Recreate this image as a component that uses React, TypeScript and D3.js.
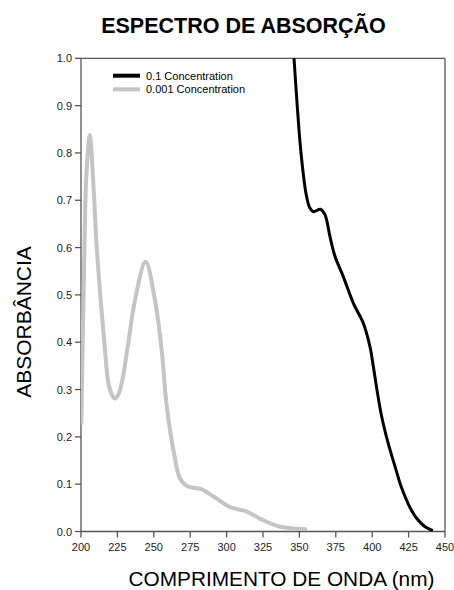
import React from "react";
import * as d3 from "d3";

const title = "ESPECTRO DE ABSORÇÃO";
const xLabel = "COMPRIMENTO DE ONDA (nm)";
const yLabel = "ABSORBÂNCIA";
const xTicks = [200, 225, 250, 275, 300, 325, 350, 375, 400, 425, 450];
const yTicks = [0, 0.1, 0.2, 0.3, 0.4, 0.5, 0.6, 0.7, 0.8, 0.9, 1.0];
const seriesNames = ["0.1 Concentration", "0.001 Concentration"];

const blackWl = [346.3, 348.5, 350.5, 352.5, 354.5, 357, 359.6, 364.4, 367.6, 371, 374.5, 380.2, 387.1, 393.9, 398.5, 400.8, 403.5, 406.5, 411, 415.7, 420, 424.8, 427.5, 430.5, 436.3, 440.9];
const blackAbs = [1.0, 0.9, 0.82, 0.76, 0.715, 0.685, 0.676, 0.681, 0.669, 0.623, 0.581, 0.538, 0.482, 0.44, 0.39, 0.348, 0.295, 0.243, 0.186, 0.137, 0.094, 0.058, 0.042, 0.028, 0.01, 0.003];

const grayWl = [200.2, 202.5, 203.5, 206, 208.4, 210.8, 213.5, 216.3, 218.8, 221.1, 223.4, 225.7, 228, 231.8, 237.1, 244.4, 250.8, 255.4, 258.9, 264.3, 268, 273.5, 279, 283, 291, 302, 314, 325, 337, 354];
const grayAbs = [0.229, 0.62, 0.74, 0.838, 0.74, 0.6, 0.49, 0.39, 0.314, 0.29, 0.281, 0.29, 0.314, 0.384, 0.489, 0.57, 0.489, 0.384, 0.264, 0.158, 0.112, 0.095, 0.092, 0.089, 0.074, 0.052, 0.042, 0.024, 0.01, 0.005];

const W = 454;
const H = 590;
const L = 81;
const R = 445;
const T = 58.3;
const B = 531.5;

export default function App() {
  const x = d3.scaleLinear().domain([200, 450]).range([L, R]);
  const y = d3.scaleLinear().domain([0, 1]).range([B, T]);
  const line = d3
    .line<[number, number]>()
    .x((d) => x(d[0]))
    .y((d) => y(d[1]))
    .curve(d3.curveCatmullRom.alpha(0.5));
  const blackPts = blackWl.map((w, i) => [w, blackAbs[i]] as [number, number]);
  const grayPts = grayWl.map((w, i) => [w, grayAbs[i]] as [number, number]);
  const axisColor = "#555";
  const font = "Liberation Sans, Arial, sans-serif";
  return (
    <svg
      width={W}
      height={H}
      style={{ position: "absolute", left: 0, top: 0, background: "#fff" }}
      fontFamily={font}
    >
      <defs>
        <clipPath id="plot">
          <rect x={L} y={T} width={R - L} height={B - T} />
        </clipPath>
      </defs>
      <text x={243.5} y={33} textAnchor="middle" fontSize={21.5} fontWeight="bold" fill="#000">
        {title}
      </text>
      <line x1={L} x2={R} y1={T} y2={T} stroke={axisColor} strokeWidth={1.3} />
      <line x1={R} x2={R} y1={T} y2={B} stroke={axisColor} strokeWidth={1.3} />
      <line x1={L} x2={L} y1={T} y2={B} stroke={axisColor} strokeWidth={1.3} />
      <line x1={L} x2={R} y1={B} y2={B} stroke={axisColor} strokeWidth={1.3} />
      {yTicks.map((t) => (
        <g key={"y" + t}>
          <line x1={L - 6} x2={L} y1={y(t)} y2={y(t)} stroke={axisColor} strokeWidth={1.3} />
          <text x={L - 9} y={y(t) + 4} textAnchor="end" fontSize={11} fill="#222">
            {t.toFixed(1)}
          </text>
        </g>
      ))}
      {xTicks.map((t) => (
        <g key={"x" + t}>
          <line x1={x(t)} x2={x(t)} y1={B} y2={B + 6} stroke={axisColor} strokeWidth={1.3} />
          <text x={x(t)} y={B + 19} textAnchor="middle" fontSize={11} fill="#222">
            {t}
          </text>
        </g>
      ))}
      <g clipPath="url(#plot)">
        <path d={line(grayPts) || ""} fill="none" stroke="#c4c4c4" strokeWidth={4} strokeLinejoin="round" strokeLinecap="round" />
        <path d={line(blackPts) || ""} fill="none" stroke="#000" strokeWidth={3} strokeLinejoin="round" strokeLinecap="round" />
      </g>
      <line x1={113} x2={140} y1={75.7} y2={75.7} stroke="#000" strokeWidth={4} />
      <text x={146} y={79.5} fontSize={11} fill="#000">{seriesNames[0]}</text>
      <line x1={113} x2={140} y1={89.3} y2={89.3} stroke="#c4c4c4" strokeWidth={4} />
      <text x={146} y={93} fontSize={11} fill="#000">{seriesNames[1]}</text>
      <text x={281.5} y={586} textAnchor="middle" fontSize={20.8} fill="#000">
        {xLabel}
      </text>
      <text
        transform={`translate(31, 322) rotate(-90)`}
        textAnchor="middle"
        fontSize={21}
        fill="#000"
      >
        {yLabel}
      </text>
    </svg>
  );
}
